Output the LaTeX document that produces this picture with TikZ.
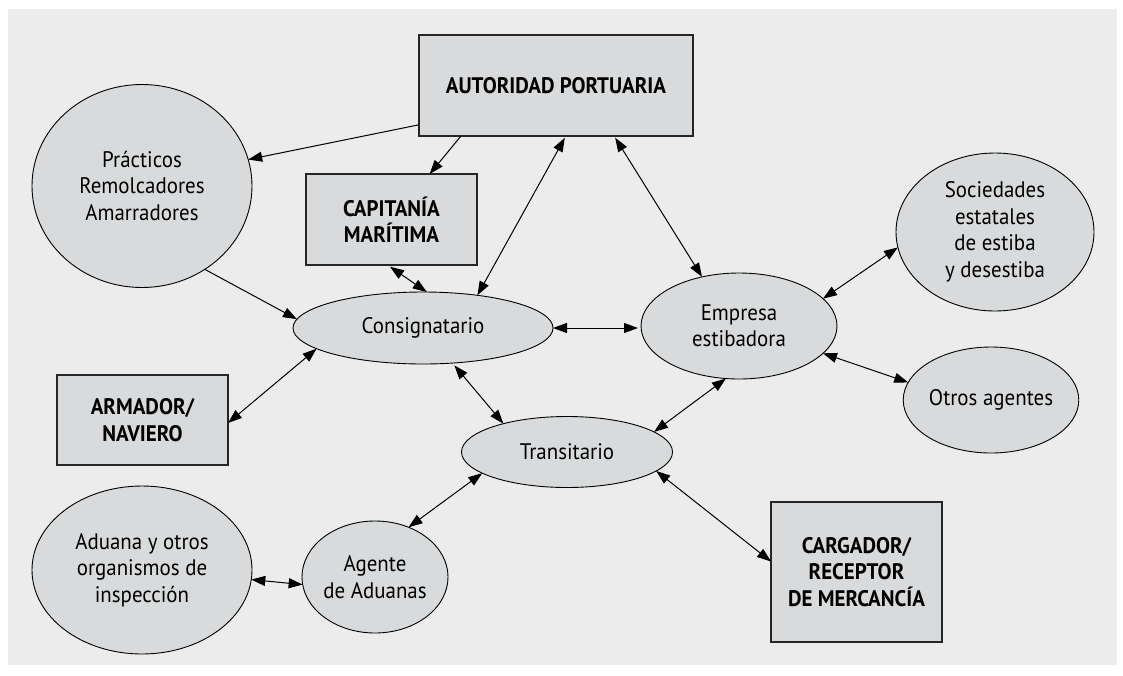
\documentclass[tikz,border=0pt]{standalone}
\usepackage{fontspec}
\setmainfont[FakeStretch=0.93]{PT Sans}
\usetikzlibrary{shapes.geometric,arrows.meta}
\definecolor{panel}{HTML}{EBECEB}
\definecolor{nodefill}{HTML}{D9DADB}
\begin{document}
\begin{tikzpicture}[x=1pt,y=-1pt,
  oval/.style={ellipse, draw=black, line width=0.9pt, fill=nodefill, align=center,
    inner sep=0pt, outer sep=0pt, font=\fontsize{22.5}{26.5}\selectfont},
  box/.style={rectangle, draw=black!85, line width=1.2pt, fill=nodefill, align=center,
    inner sep=0pt, outer sep=0pt, font=\fontsize{22.5}{26.5}\selectfont\bfseries},
  link/.style={line width=1pt, -{Triangle[length=14pt,width=10pt]}},
  both/.style={line width=1pt, {Triangle[length=14pt,width=10pt]}-{Triangle[length=14pt,width=10pt]}}
]
\useasboundingbox (0,0) rectangle (1123,675);
\fill[white] (0,0) rectangle (1123,675);
\fill[panel] (8,9) rectangle (1117,665);

% boxes
\node[box, minimum width=274pt, minimum height=101pt] (ap) at (556,85.5) {AUTORIDAD PORTUARIA};
\node[box, minimum width=171pt, minimum height=91pt] (cap) at (391.5,219.5) {CAPITANÍA\\MARÍTIMA};
\node[box, minimum width=171pt, minimum height=90pt] (arm) at (142.5,420) {ARMADOR/\\NAVIERO};
\node[box, minimum width=171pt, minimum height=140pt] (carg) at (856.5,572) {CARGADOR/\\RECEPTOR\\DE MERCANCÍA};

% ellipses
\node[oval, minimum width=220pt, minimum height=203pt] (prac) at (142,186) {Prácticos\\Remolcadores\\Amarradores};
\node[oval, minimum width=260pt, minimum height=72pt] (cons) at (423,328) {Consignatario};
\node[oval, minimum width=196pt, minimum height=106pt] (emp) at (739,326) {Empresa\\estibadora};
\node[oval, minimum width=198pt, minimum height=158pt] (soc) at (995,232) {Sociedades\\estatales\\de estiba\\y desestiba};
\node[oval, minimum width=158pt, minimum height=106pt] (otros) at (991,400) {Otros agentes};
\node[oval, minimum width=211pt, minimum height=71pt] (trans) at (567,452) {Transitario};
\node[oval, minimum width=144pt, minimum height=112pt] (agente) at (375,577) {Agente\\de Aduanas};
\node[oval, minimum width=220pt, minimum height=168pt] (aduana) at (142,570) {Aduana y otros\\organismos de\\inspección};

% one-way links
\draw[link] (ap.196) -- (prac.14);
\draw[link] (ap.208) -- (cap.50);
\draw[link] (prac.-53) -- (cons.176);

% two-way links
\draw[both, shorten <=2pt] (ap.281) -- (cons.31);
\draw[both, shorten <=2pt] (ap.319) -- (emp.127);
\draw[both, shorten <=3pt] (cap.265) -- (cons.84);
\draw[both, shorten >=3pt] (cons.east) -- (emp.west |- cons.east);
\draw[both] (cons.191) -- (arm.-2);
\draw[both, shorten <=3pt] (cons.-50) -- (trans.156);
\draw[both] (emp.256) -- (trans.13);
\draw[both] (emp.18) -- (soc.189);
\draw[both] (emp.-18) -- (otros.168);
\draw[both] (trans.194) -- (agente.56);
\draw[both] (trans.-12) -- (carg.173);
\draw[both] (aduana.-5) -- (agente.186);
\end{tikzpicture}
\end{document}
